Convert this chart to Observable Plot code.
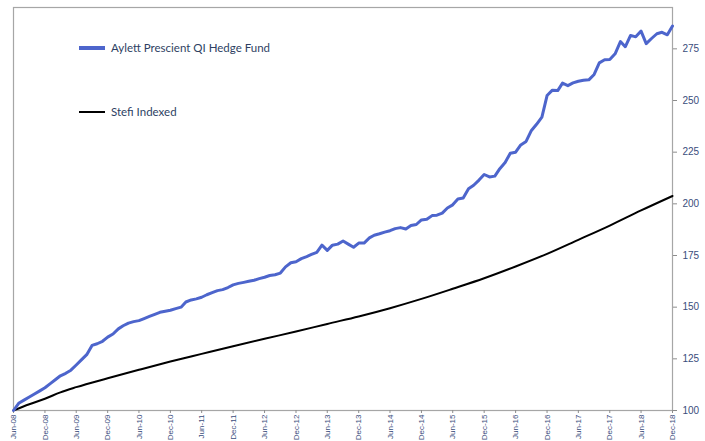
<!DOCTYPE html>
<html>
<head>
<meta charset="utf-8">
<script src="https://cdn.jsdelivr.net/npm/d3@7"></script>
<script src="https://cdn.jsdelivr.net/npm/@observablehq/plot@0.6"></script>
<style>
  html, body { margin: 0; padding: 0; background: #fff; }
  #wrap { position: relative; width: 705px; height: 441px; overflow: hidden; }
  .leg { position: absolute; font-family: "Lato", sans-serif; font-size: 11.5px; color: #2e3f63; display: flex; align-items: center; white-space: nowrap; }
  .sw { display: inline-block; width: 26px; margin-right: 6px; }
</style>
</head>
<body>
<div id="wrap"></div>
<script>
const startYear = 2008, startMonth = 5; // June 2008
const fundName = "Aylett Prescient QI Hedge Fund";
const stefiName = "Stefi Indexed";

// Monthly index values, Jun-08 .. Dec-18
const fundValues = [
  100, 103.5, 105, 106.5, 108, 109.5, 111, 113, 115, 116.8, 118, 119.5,
  122, 124.5, 127, 131.5, 132.3, 133.5, 135.5, 137, 139.5, 141, 142.3, 143,
  143.5, 144.5, 145.5, 146.5, 147.5, 148, 148.5, 149.3, 150, 152.5, 153.5, 154,
  154.8, 156, 157, 158, 158.5, 159.5, 160.8, 161.5, 162, 162.5, 163, 163.8,
  164.5, 165.3, 165.7, 166.5, 169.5, 171.5, 172, 173.5, 174.5, 175.5, 176.5, 180,
  177.5, 180, 180.5, 182, 180.5, 179, 181, 181, 183.5, 184.8, 185.5, 186.3,
  187, 188, 188.5, 187.8, 189.5, 190, 192.2, 192.5, 194.3, 194.5, 195.5, 198,
  199.5, 202.3, 202.8, 207.3, 209, 211.5, 214.2, 213, 213.4, 217, 220, 224.5,
  225, 228.5, 230.2, 235.5, 238.5, 242, 252.4, 255, 254.8, 258.4, 257.2, 258.5,
  259.3, 259.8, 260, 262.6, 268.2, 269.7, 269.8, 272.6, 278.5, 276, 281.5, 280.8,
  283.6, 277.5, 280, 282.3, 283, 281.8, 286
];

// Stefi readings: month offset from Jun-08 and index value
const stefiMonths = [0, 3, 6, 9, 12, 18, 24, 30, 36, 42, 48, 54, 60, 66, 72, 78, 84, 90, 96, 102, 108, 114, 120, 126];
const stefiValues = [100, 103, 105.7, 108.8, 111.3, 115.6, 119.7, 123.7, 127.4, 131.1, 134.7, 138.2, 141.9, 145.5, 149.5, 154, 158.9, 164, 169.7, 175.8, 182.6, 189.5, 196.8, 203.8];

const yTicks = [100, 125, 150, 175, 200, 225, 250, 275];

const monthDate = (m) => new Date(startYear, startMonth + m, 1);
const fund = fundValues.map((v, i) => ({date: monthDate(i), value: v}));
const stefi = stefiMonths.map((m, i) => ({date: monthDate(m), value: stefiValues[i]}));
const xTicks = d3.range(0, 127, 6).map(monthDate);
const fmt = d3.timeFormat("%b-%y");

const chart = Plot.plot({
  width: 705,
  height: 441,
  marginLeft: 13,
  marginRight: 33,
  marginTop: 7,
  marginBottom: 31,
  style: {fontFamily: "Liberation Sans, Arial, sans-serif", fontSize: "10px", color: "#3a4d7c", background: "#fff"},
  x: {type: "time", domain: [monthDate(0), monthDate(126)]},
  y: {domain: [100, 295]},
  marks: [
    Plot.frame({stroke: "#a6a6a6", strokeWidth: 1.2}),
    Plot.axisY({anchor: "right", ticks: yTicks, tickSize: 4, tickPadding: 6, stroke: "#8c8c8c", fill: "#3a4d7c", label: null, fontSize: 10}),
    Plot.axisX({ticks: xTicks, tickFormat: fmt, tickSize: 3, tickRotate: -90, tickPadding: 1, stroke: "#8c8c8c", fill: "#3a4d7c", label: null, fontSize: 8}),
    Plot.line(stefi, {x: "date", y: "value", stroke: "#000", strokeWidth: 2, curve: "monotone-x"}),
    Plot.line(fund, {x: "date", y: "value", stroke: "#4d65cc", strokeWidth: 3, strokeLinejoin: "round"})
  ]
});
const wrap = document.getElementById("wrap");
wrap.appendChild(chart);

function legendItem(name, color, thick, top) {
  const d = document.createElement("div");
  d.className = "leg";
  d.style.left = "79px";
  d.style.top = top + "px";
  const s = document.createElement("span");
  s.className = "sw";
  s.style.borderTop = thick + "px solid " + color;
  d.appendChild(s);
  d.appendChild(document.createTextNode(name));
  wrap.appendChild(d);
}
legendItem(fundName, "#4d65cc", 4, 41);
legendItem(stefiName, "#000", 2.5, 105);
</script>
</body>
</html>
